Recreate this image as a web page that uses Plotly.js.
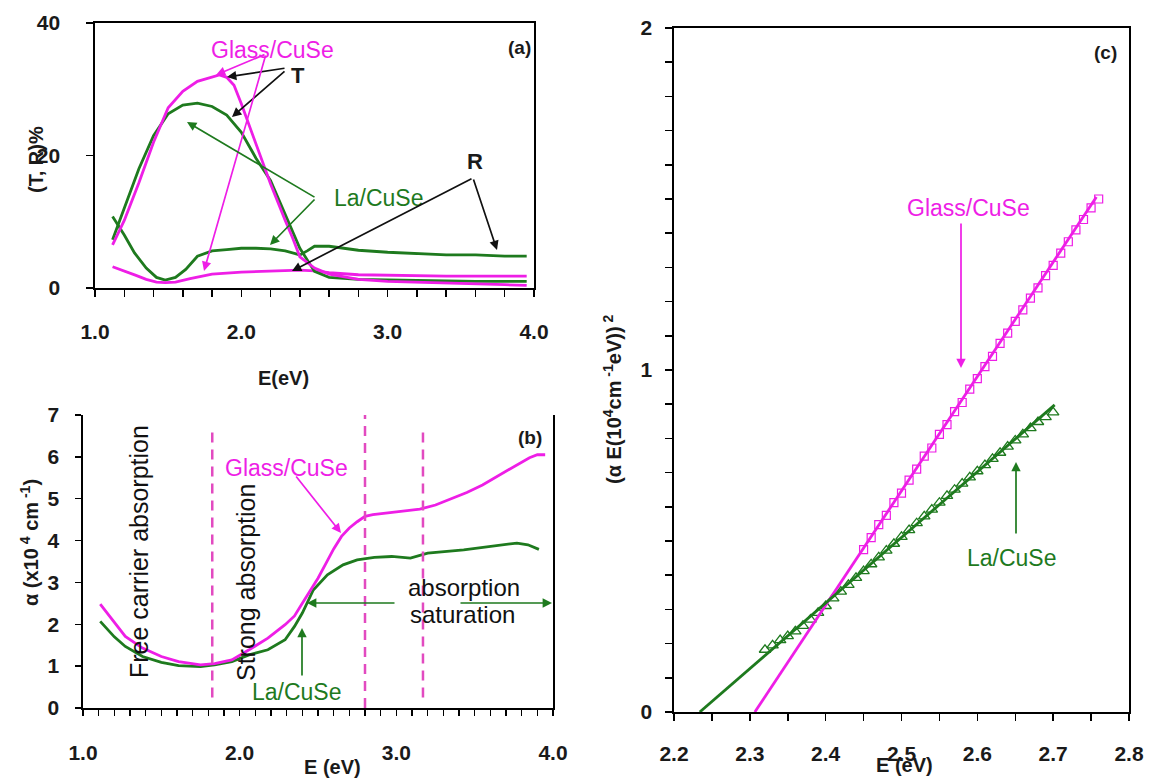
<!DOCTYPE html>
<html>
<head>
<meta charset="utf-8">
<script src="https://cdn.plot.ly/plotly-3.0.1.min.js"></script>
<style>html,body{margin:0;padding:0;background:#fff;}#chart{width:1154px;height:783px;}</style>
</head>
<body>
<div id="chart"></div>
<script>
// ---------- Panel (a): T and R spectra ----------
const glassT_E = [1.12,1.2,1.3,1.4,1.5,1.6,1.7,1.8,1.85,1.9,1.95,2.0,2.1,2.2,2.3,2.35,2.4,2.5,2.6,2.8,3.0,3.2,3.4,3.6,3.8,3.95];
const glassT_V = [6.5,10.2,15.9,22.0,27.2,29.7,31.2,31.9,32.15,31.8,30.6,27.8,21.6,15.7,10.2,7.6,4.7,3.0,2.1,1.3,1.0,0.9,0.7,0.6,0.5,0.4];
const glassR_E = [1.12,1.2,1.28,1.35,1.42,1.48,1.55,1.65,1.8,2.0,2.2,2.4,2.5,2.6,2.8,3.0,3.2,3.4,3.6,3.8,3.95];
const glassR_V = [3.2,2.6,1.9,1.3,0.9,0.8,0.9,1.4,2.1,2.4,2.6,2.7,2.6,2.3,2.0,1.9,1.9,1.8,1.8,1.8,1.8];
const laT_E = [1.12,1.2,1.3,1.4,1.5,1.6,1.7,1.8,1.9,2.0,2.1,2.2,2.3,2.4,2.5,2.6,2.8,3.0,3.2,3.4,3.6,3.8,3.95];
const laT_V = [7.3,12.0,18.0,23.0,26.3,27.6,27.9,27.4,26.1,23.5,19.6,16.2,11.1,6.0,2.5,1.6,1.3,1.2,1.1,1.1,1.0,1.0,1.0];
const laR_E = [1.12,1.2,1.27,1.35,1.42,1.48,1.55,1.62,1.7,1.8,1.9,2.0,2.1,2.2,2.3,2.4,2.45,2.5,2.6,2.7,2.8,3.0,3.2,3.4,3.6,3.8,3.95];
const laR_V = [10.8,8.0,5.3,3.0,1.6,1.2,1.6,2.8,4.8,5.6,5.8,6.0,6.0,5.9,5.6,5.0,5.6,6.3,6.3,6.0,5.7,5.4,5.2,5.0,5.0,4.8,4.8];

// ---------- Panel (b): absorption coefficient ----------
const glassA_E = [1.11,1.2,1.27,1.38,1.5,1.61,1.75,1.84,1.95,2.06,2.18,2.29,2.35,2.4,2.45,2.5,2.55,2.6,2.65,2.7,2.75,2.8,2.85,2.95,3.05,3.15,3.25,3.35,3.45,3.55,3.65,3.75,3.85,3.9,3.95];
const glassA_V = [2.48,2.05,1.71,1.43,1.23,1.11,1.03,1.06,1.15,1.39,1.67,1.99,2.2,2.5,2.8,3.1,3.45,3.8,4.1,4.3,4.45,4.58,4.62,4.66,4.70,4.75,4.85,5.0,5.15,5.33,5.55,5.75,5.98,6.05,6.05];
const laA_E = [1.11,1.2,1.27,1.38,1.5,1.61,1.75,1.84,1.95,2.06,2.18,2.29,2.35,2.4,2.47,2.56,2.66,2.75,2.86,2.97,3.09,3.2,3.43,3.66,3.77,3.84,3.91];
const laA_V = [2.07,1.7,1.47,1.23,1.09,1.01,0.99,1.03,1.11,1.27,1.39,1.63,1.95,2.27,2.82,3.18,3.42,3.54,3.60,3.62,3.58,3.70,3.78,3.90,3.94,3.90,3.79];
const regionE = [1.825, 2.80, 3.17];
const regionTop = [6.6, 7.0, 6.6];
const regionBottom = [0.25, 0.0, 0.25];

// ---------- Panel (c): Tauc plot ----------
const glassTauc_E = [2.45,2.46,2.47,2.48,2.49,2.50,2.51,2.52,2.53,2.54,2.55,2.56,2.57,2.58,2.59,2.60,2.61,2.62,2.63,2.64,2.65,2.66,2.67,2.68,2.69,2.70,2.71,2.72,2.73,2.74,2.75,2.76];
const glassTauc_V = [0.475,0.510,0.548,0.575,0.612,0.640,0.678,0.710,0.748,0.772,0.812,0.840,0.878,0.905,0.944,0.975,1.010,1.040,1.078,1.108,1.142,1.176,1.210,1.240,1.276,1.306,1.342,1.375,1.410,1.440,1.474,1.500];
const laTauc_E = [2.32,2.33,2.34,2.35,2.36,2.37,2.38,2.39,2.40,2.41,2.42,2.43,2.44,2.45,2.46,2.47,2.48,2.49,2.50,2.51,2.52,2.53,2.54,2.55,2.56,2.57,2.58,2.59,2.60,2.61,2.62,2.63,2.64,2.65,2.66,2.67,2.68,2.69,2.70];
const laTauc_V = [0.182,0.195,0.210,0.222,0.236,0.252,0.270,0.290,0.310,0.332,0.352,0.372,0.392,0.412,0.432,0.452,0.472,0.492,0.512,0.532,0.552,0.572,0.592,0.612,0.632,0.650,0.668,0.686,0.704,0.722,0.740,0.758,0.776,0.794,0.812,0.830,0.848,0.862,0.876];
const glassFit_E = [2.3066, 2.757];
const glassFit_V = [0, 1.506];
const laFit_E = [2.234, 2.702];
const laFit_V = [0, 0.898];

// ---------- styling ----------
const W = 1154, H = 783;
const MAG = '#ee1ee6', GRN = '#1e7a1e', DASH = '#e24ac0';
const FONT = 'Liberation Sans, Arial, sans-serif';
const px = x => x / W, py = y => 1 - y / H;
const tickFont = {family: FONT, size: 21, color: '#1a1a1a', weight: 'bold'};

function ln(x, y, color, xa, ya, w) {
  return {x: x, y: y, type: 'scatter', mode: 'lines', xaxis: xa, yaxis: ya,
          line: {color: color, width: w || 2.8}, hoverinfo: 'skip', showlegend: false};
}
const traces = [
  ln(laR_E, laR_V, GRN, 'x', 'y'),
  ln(glassR_E, glassR_V, MAG, 'x', 'y'),
  ln(laT_E, laT_V, GRN, 'x', 'y'),
  ln(glassT_E, glassT_V, MAG, 'x', 'y'),
  ln(laA_E, laA_V, GRN, 'x2', 'y2'),
  ln(glassA_E, glassA_V, MAG, 'x2', 'y2'),
  {x: glassTauc_E, y: glassTauc_V, type: 'scatter', mode: 'markers', xaxis: 'x3', yaxis: 'y3',
   marker: {symbol: 'square-open', size: 8, color: MAG, line: {width: 1.2}}, showlegend: false},
  {x: laTauc_E, y: laTauc_V, type: 'scatter', mode: 'markers', xaxis: 'x3', yaxis: 'y3',
   marker: {symbol: 'triangle-up-open', size: 10, color: GRN, line: {width: 1.3}}, showlegend: false},
  ln(glassFit_E, glassFit_V, MAG, 'x3', 'y3', 2.8),
  ln(laFit_E, laFit_V, GRN, 'x3', 'y3', 2.8)
];

function axis(extra) {
  return Object.assign({showline: true, linecolor: '#000', linewidth: 1.6, showgrid: false, zeroline: false,
    ticks: 'outside', ticklen: 7, tickwidth: 1.5, tickcolor: '#000', tickfont: tickFont, fixedrange: true}, extra);
}
function minor(d, t0, len) { return {dtick: d, tick0: t0, ticks: 'outside', ticklen: len || 7, tickwidth: 1.5, tickcolor: '#000', showgrid: false}; }

const shapes = regionE.map((e, i) => ({type: 'line', xref: 'x2', yref: 'y2', x0: e, x1: e,
  y0: regionBottom[i], y1: regionTop[i], line: {color: DASH, width: 2.5, dash: '10px,7px'}}));

function txt(t, x, y, color, size, extra) {
  return Object.assign({text: t, x: px(x), y: py(y), xref: 'paper', yref: 'paper', showarrow: false,
    xanchor: 'center', yanchor: 'middle', font: {family: FONT, size: size || 19, color: color || '#1a1a1a'}}, extra || {});
}
function arr(tipX, tipY, tailX, tailY, color) {
  return {text: '', x: px(tipX), y: py(tipY), xref: 'paper', yref: 'paper', showarrow: true,
    ax: tailX - tipX, ay: tailY - tipY, arrowhead: 2, arrowsize: 1.1, arrowwidth: 1.7, arrowcolor: color};
}
const bold = (s) => ({family: FONT, size: s, color: '#1a1a1a', weight: 'bold'});
const annotations = [
  // panel (a)
  txt('Glass/CuSe', 272, 50, MAG, 23),
  txt('T', 298, 76, '#111', 22, {font: bold(22)}),
  txt('La/CuSe', 379, 198, GRN, 23),
  txt('R', 475, 162, '#111', 22, {font: bold(22)}),
  txt('(a)', 519, 48, '#111', 19, {font: bold(19)}),
  txt('(T, R)%', 36, 160, '#111', 20, {font: bold(20), textangle: -90}),
  txt('E(eV)', 283, 378, '#111', 20, {font: bold(20)}),
  arr(227, 77, 286, 68, '#111'),
  arr(232, 117, 286, 70, '#111'),
  arr(216, 75, 266, 54, MAG),
  arr(204, 271, 266, 54, MAG),
  arr(187, 122, 316, 198, GRN),
  arr(270, 245, 316, 198, GRN),
  arr(497, 250, 473, 178, '#111'),
  arr(292, 271, 473, 178, '#111'),
  // panel (b)
  txt('Free carrier absorption', 139, 552, '#111', 25, {textangle: -90}),
  txt('Strong absorption', 246, 583, '#111', 25, {textangle: -90}),
  txt('Glass/CuSe', 286, 468, MAG, 23),
  txt('absorption', 464, 587, '#111', 24),
  txt('saturation', 462, 614, '#111', 24),
  txt('La/CuSe', 297, 692, GRN, 23),
  txt('(b)', 530, 438, '#111', 19, {font: bold(19)}),
  txt('α (x10<sup> 4</sup> cm<sup> -1</sup>)', 29, 543, '#111', 20, {font: bold(20), textangle: -90}),
  txt('E (eV)', 332, 767, '#111', 20, {font: bold(20)}),
  arr(341, 533, 295, 475, MAG),
  arr(307, 603, 396, 603, GRN),
  arr(552, 603, 459, 603, GRN),
  arr(302, 628, 302, 677, GRN),
  // panel (c)
  txt('(c)', 1105, 53, '#111', 19, {font: bold(19)}),
  txt('Glass/CuSe', 968, 208, MAG, 23),
  txt('La/CuSe', 1012, 558, GRN, 23),
  txt('(α E(10<sup>4</sup>cm<sup> -1</sup>eV))<sup> 2</sup>', 612, 400, '#111', 20, {font: bold(20), textangle: -90}),
  txt('E (eV)', 904, 765, '#111', 20, {font: bold(20)}),
  arr(961, 368, 961, 222, MAG),
  arr(1016, 462, 1016, 535, GRN)
];

const layout = {
  width: W, height: H, margin: {l: 0, r: 0, t: 0, b: 0}, paper_bgcolor: '#fff', plot_bgcolor: '#fff',
  showlegend: false,
  xaxis: axis({domain: [px(95), px(534)], anchor: 'y', range: [1, 4], dtick: 1, tick0: 1, tickformat: '.1f',
    minor: minor(0.2, 1, 7), mirror: true, ticklabelstandoff: 17}),
  yaxis: axis({domain: [py(288), py(23)], anchor: 'x', range: [0, 40], dtick: 20, mirror: true, ticklabelstandoff: 22}),
  xaxis2: axis({domain: [px(83), px(553)], anchor: 'y2', range: [1, 4], dtick: 1, tick0: 1, tickformat: '.1f',
    ticklen: 6, minor: minor(0.1, 1, 6), mirror: false, ticklabelstandoff: 19}),
  yaxis2: axis({domain: [py(708), py(415)], anchor: 'x2', range: [0, 7], dtick: 1, ticklen: 6, mirror: true, ticklabelstandoff: 12}),
  xaxis3: axis({domain: [px(674), px(1129)], anchor: 'y3', range: [2.2, 2.8], dtick: 0.1, tick0: 2.2, tickformat: '.1f',
    minor: minor(0.05, 2.2, 7), mirror: true, ticklabelstandoff: 15}),
  yaxis3: axis({domain: [py(712), py(28)], anchor: 'x3', range: [0, 2], dtick: 1, minor: minor(0.1, 0, 7), mirror: true, ticklabelstandoff: 9}),
  shapes: shapes,
  annotations: annotations
};
Plotly.newPlot('chart', traces, layout, {displayModeBar: false, staticPlot: true});
</script>
</body>
</html>
